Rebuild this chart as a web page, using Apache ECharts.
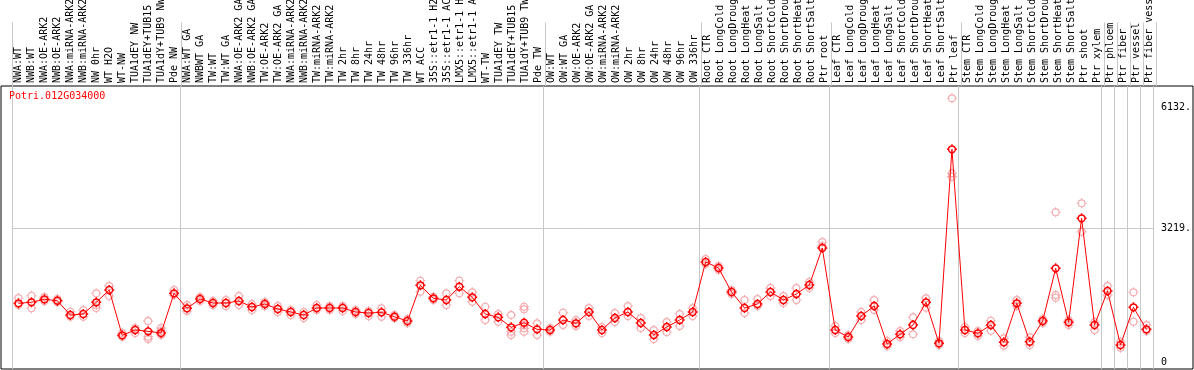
<!DOCTYPE html>
<html>
<head>
<meta charset="utf-8">
<script src="https://cdn.jsdelivr.net/npm/echarts@6/dist/echarts.min.js"></script>
<style>
  html, body { margin: 0; padding: 0; background: #fff; }
  #chart { width: 1194px; height: 370px; }
</style>
</head>
<body>
<div id="chart"></div>
<script>
var geneName = 'Potri.012G034000';

var categories = [
    'NWA:WT', 'NWB:WT', 'NWA:OE-ARK2', 'NWB:OE-ARK2', 'NWA:miRNA-ARK2', 'NWB:miRNA-ARK2',
    'NW 0hr', 'WT H2O', 'WT-NW', 'TUA1dEY NW', 'TUA1dEY+TUB15 NW', 'TUA1dY+TUB9 NW', 'Pde NW',
    'NWA:WT GA', 'NWBWT GA', 'TW:WT', 'TW:WT GA', 'NWA:OE-ARK2 GA', 'NWB:OE-ARK2 GA',
    'TW:OE-ARK2', 'TW:OE-ARK2 GA', 'NWA:miRNA-ARK2', 'NWB:miRNA-ARK2', 'TW:miRNA-ARK2',
    'TW:miRNA-ARK2', 'TW 2hr', 'TW 8hr', 'TW 24hr', 'TW 48hr', 'TW 96hr', 'TW 336hr',
    'WT ACC', '35S::etr1-1 H2O', '35S::etr1-1 ACC', 'LMX5::etr1-1 H2O', 'LMX5::etr1-1 ACC',
    'WT-TW', 'TUA1dEY TW', 'TUA1dEY+TUB15 TW', 'TUA1dY+TUB9 TW', 'Pde TW',
    'OW:WT', 'OW:WT GA', 'OW:OE-ARK2', 'OW:OE-ARK2 GA', 'OW:miRNA-ARK2', 'OW:miRNA-ARK2',
    'OW 2hr', 'OW 8hr', 'OW 24hr', 'OW 48hr', 'OW 96hr', 'OW 336hr',
    'Root CTR', 'Root LongCold', 'Root LongDrought', 'Root LongHeat', 'Root LongSalt',
    'Root ShortCold', 'Root ShortDrought', 'Root ShortHeat', 'Root ShortSalt', 'Ptr root',
    'Leaf CTR', 'Leaf LongCold', 'Leaf LongDrought', 'Leaf LongHeat', 'Leaf LongSalt',
    'Leaf ShortCold', 'Leaf ShortDrought', 'Leaf ShortHeat', 'Leaf ShortSalt', 'Ptr leaf',
    'Stem CTR', 'Stem LongCold', 'Stem LongDrought', 'Stem LongHeat', 'Stem LongSalt',
    'Stem ShortCold', 'Stem ShortDrought', 'Stem ShortHeat', 'Stem ShortSalt', 'Ptr shoot',
    'Ptr xylem', 'Ptr phloem', 'Ptr fiber', 'Ptr vessel', 'Ptr fiber vessel'
];

// first column of each block (vertical separators)
var groupStarts = [0, 13, 41, 53, 63, 73, 84, 85, 86, 87];

// mean expression per column
var meanValues = [
    1412, 1436, 1508, 1474, 1130, 1154, 1436, 1732, 642, 770, 738, 697, 1652,
    1291, 1515, 1419, 1419, 1467, 1323, 1395, 1275, 1203, 1130, 1299, 1299, 1299, 1203,
    1178, 1195, 1089, 986, 1845, 1532, 1491, 1811, 1556, 1154, 1075, 835, 945, 786,
    770, 1010, 931, 1203, 770, 1058, 1203, 938, 649, 842, 1010, 1203,
    2405, 2261, 1684, 1299, 1395, 1684, 1491, 1635, 1852, 2742,
    770, 601, 1106, 1347, 433, 666, 890, 1436, 450, 5115,
    770, 690, 890, 474, 1412, 488, 986, 2253, 955, 3456,
    890, 1708, 409, 1316, 786
];

// individual replicates per column
var repValues = [
    [1539, 1371], [1595, 1291], [1563, 1467], [1515, 1443], [1210, 1089], [1251, 1089],
    [1652, 1371, 1299], [1828, 1587], [608, 697], [818, 697], [986, 608, 553], [818, 649, 746],
    [1732, 1611],
    [1371, 1227], [1563, 1467], [1467, 1371], [1491, 1347], [1587, 1371], [1395, 1251],
    [1443, 1347], [1347, 1203], [1251, 1130], [1203, 1058], [1371, 1251], [1347, 1251],
    [1347, 1227], [1251, 1154], [1227, 1106], [1291, 1089], [1130, 1058], [1034, 938],
    [1955, 1691], [1571, 1491], [1652, 1371], [1955, 1652], [1676, 1450], [1330, 1010],
    [1154, 969], [1130, 729, 649], [1330, 1267, 890, 810, 729], [931, 649],
    [729, 818], [1186, 890], [1010, 866], [1299, 1106], [842, 697], [1178, 962],
    [1347, 1106], [1058, 818], [770, 553], [962, 722], [1154, 866], [1299, 1106],
    [2477, 2357], [2309, 2213], [1732, 1635], [1491, 1178], [1515, 1347], [1780, 1587],
    [1587, 1419], [1780, 1491], [1924, 1780], [2886, 2790],
    [866, 697], [649, 553], [1203, 1010], [1491, 1251], [505, 385], [746, 601],
    [1075, 666], [1532, 1306], [505, 409], [6342, 4538, 4457],
    [842, 697], [746, 625], [993, 753], [570, 392], [1491, 1347], [594, 409],
    [1034, 938], [3600, 1611, 1546], [1010, 890], [3817, 3134],
    [962, 770], [1828, 1611], [481, 344], [1676, 969], [890, 746]
];

var yTickValues = [0, 3219, 6132];
var yTickLabels = ['0', '3219.', '6132.'];
var gridValues = [3219];

var chart = echarts.init(document.getElementById('chart'));

var repPoints = [];
for (var i = 0; i < repValues.length; i++) {
    for (var j = 0; j < repValues[i].length; j++) {
        repPoints.push([i, repValues[i][j]]);
    }
}

var monoFont = '"DejaVu Sans Mono", monospace';
// ring with four little ticks, like the original plot's markers
var ringMark = 'path://M5,0L5,1.6M5,8.4L5,10M0,5L1.6,5M8.4,5L10,5M1.6,5A3.4,3.4,0,1,1,8.4,5A3.4,3.4,0,1,1,1.6,5Z';

var sepLine = {
    show: true,
    interval: function (index) {
        return groupStarts.indexOf(index) >= 0;
    },
    lineStyle: { color: '#c8c8c8', width: 1 }
};

var option = {
    animation: false,
    title: {
        text: geneName,
        left: 9,
        top: 91,
        padding: 0,
        textStyle: { color: '#ff0000', fontFamily: monoFont, fontSize: 10, fontWeight: 'normal' }
    },
    grid: [
        // label strip
        { left: 12, right: 38, top: 0, height: 86 },
        // plot
        { left: 12, right: 38, top: 86, bottom: 1 },
        // frame
        { left: 1, right: 1, top: 86, bottom: 1, show: true, borderColor: '#000', borderWidth: 1, backgroundColor: 'transparent' }
    ],
    xAxis: [
        {
            gridIndex: 0,
            type: 'category',
            data: categories,
            position: 'bottom',
            axisLine: { show: false },
            axisTick: { show: false },
            axisLabel: {
                inside: true,
                rotate: 90,
                interval: 0,
                margin: 3,
                color: '#000',
                fontFamily: monoFont,
                fontSize: 10
            },
            splitLine: sepLine
        },
        {
            gridIndex: 1,
            type: 'category',
            data: categories,
            axisLine: { show: false },
            axisTick: { show: false },
            axisLabel: { show: false },
            splitLine: sepLine
        },
        { gridIndex: 2, type: 'value', show: false }
    ],
    yAxis: [
        { gridIndex: 0, type: 'value', show: false },
        {
            gridIndex: 1,
            type: 'value',
            position: 'right',
            min: -168,
            max: 6637,
            axisLine: { show: false },
            axisTick: { show: false, customValues: gridValues },
            axisLabel: {
                customValues: yTickValues,
                margin: 8,
                color: '#000',
                fontFamily: monoFont,
                fontSize: 10,
                formatter: function (v) {
                    var k = yTickValues.indexOf(v);
                    return k >= 0 ? yTickLabels[k] : '';
                }
            },
            splitLine: { show: true, lineStyle: { color: '#c8c8c8', width: 1 } }
        },
        { gridIndex: 2, type: 'value', show: false }
    ],
    series: [
        {
            name: 'replicates',
            type: 'scatter',
            xAxisIndex: 1,
            yAxisIndex: 1,
            data: repPoints,
            symbol: ringMark,
            symbolSize: 10,
            itemStyle: { color: 'rgba(0,0,0,0)', borderColor: '#f0959a', borderWidth: 1.1 },
            z: 2
        },
        {
            name: 'mean',
            type: 'line',
            xAxisIndex: 1,
            yAxisIndex: 1,
            data: meanValues,
            symbol: ringMark,
            symbolSize: 10,
            showAllSymbol: true,
            lineStyle: { color: '#ff0000', width: 1 },
            itemStyle: { color: 'rgba(0,0,0,0)', borderColor: '#ff0000', borderWidth: 1.5 },
            z: 3
        }
    ]
};
chart.setOption(option);
</script>
</body>
</html>
